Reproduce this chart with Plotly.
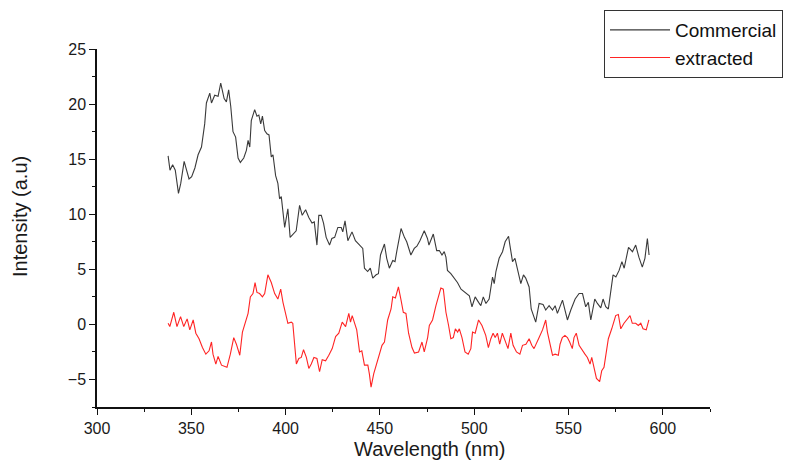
import plotly.graph_objects as go

# Commercial series (wavelength nm, intensity a.u.)
commercial_x = [337.7, 338.7, 340.1, 341.5, 343.2, 344.4, 346.2, 347.6, 348.8, 350.2, 351.9, 353.6, 355.4, 357.1, 358.0,
                359.8, 360.7, 362.4, 364.2, 365.6, 367.4, 368.6, 369.8, 370.9, 372.1, 373.5, 374.8, 376.0, 377.8, 379.2,
                380.1, 381.0, 381.8, 383.6, 384.8, 385.8, 386.8, 387.7, 388.9, 390.1, 391.2, 392.4, 393.3, 394.7, 395.9,
                396.8, 397.7, 399.5, 401.2, 402.4, 403.8, 405.6, 407.4, 408.8, 410.6, 412.3, 414.0, 415.2, 416.6, 417.6,
                418.9, 420.1, 421.5, 423.3, 424.5, 426.0, 427.7, 429.5, 430.3, 431.5, 433.0, 435.2, 437.0, 438.7, 440.9,
                441.8, 443.5, 444.9, 446.2, 448.0, 449.2, 450.3, 452.4, 453.6, 455.0, 456.8, 458.0, 459.0, 461.2, 463.0,
                464.2, 466.4, 468.2, 469.6, 471.2, 473.5, 475.2, 476.0, 478.3, 480.1, 481.5, 482.9, 484.1, 485.0, 485.8,
                487.6, 489.4, 491.1, 493.0, 495.0, 497.4, 498.8, 500.5, 502.3, 503.5, 504.8, 506.2, 507.9, 509.7, 510.6,
                511.5, 513.2, 515.0, 516.4, 518.2, 518.9, 520.3, 521.6, 522.9, 524.7, 526.1, 527.3, 529.1, 530.2, 532.6,
                534.4, 536.5, 537.9, 539.7, 541.5, 542.9, 544.1, 546.8, 548.2, 549.4, 551.2, 553.5, 555.6, 557.4, 559.1,
                560.5, 561.8, 563.9, 565.3, 567.1, 568.3, 569.7, 571.1, 572.4, 573.6, 575.1, 576.8, 578.3, 579.5, 581.8,
                583.9, 585.6, 587.3, 589.1, 590.5, 591.8, 592.7]
commercial_y = [15.3, 14.0, 14.5, 14.0, 11.9, 12.8, 14.8, 14.0, 13.2, 13.4, 14.2, 15.4, 16.1, 18.2, 20.1,
                21.0, 20.1, 20.8, 20.7, 21.9, 20.5, 20.2, 21.3, 19.8, 17.5, 17.0, 15.1, 14.7, 15.1, 15.8,
                16.7, 16.1, 18.5, 19.5, 18.9, 19.0, 18.2, 18.9, 17.6, 17.3, 17.2, 15.2, 15.4, 13.5, 12.8,
                11.4, 11.6, 8.8, 10.5, 7.9, 8.2, 8.5, 10.8, 9.9, 10.4, 9.7, 9.2, 9.3, 7.2, 9.9,
                9.9, 9.2, 7.9, 7.2, 7.8, 7.9, 8.8, 8.8, 8.4, 9.4, 7.6, 8.4, 7.6, 7.3, 6.9,
                5.1, 4.8, 5.1, 4.2, 4.5, 4.6, 6.3, 7.3, 6.0, 5.1, 5.8, 5.7, 6.7, 8.7, 7.9,
                7.5, 6.3, 6.9, 7.1, 7.6, 8.5, 7.8, 7.2, 8.2, 6.7, 6.7, 6.3, 6.6, 6.1, 4.9,
                4.6, 4.2, 3.8, 3.2, 2.9, 2.6, 1.6, 2.5, 2.0, 1.7, 2.5, 1.9, 2.3, 4.3, 3.7,
                4.8, 6.0, 6.6, 7.5, 8.0, 7.2, 5.7, 6.0, 4.9, 3.7, 4.5, 4.2, 3.4, 1.4, 0.2,
                1.9, 1.8, 1.3, 1.7, 1.3, 1.7, 1.0, 2.2, 1.1, 0.4, 1.3, 2.3, 2.8, 2.8, 1.6,
                2.0, 0.4, 2.3, 1.9, 1.5, 2.3, 1.6, 1.4, 2.8, 4.5, 4.3, 4.9, 5.7, 5.1, 7.0,
                6.6, 7.2, 6.1, 5.2, 6.0, 7.8, 6.3]

# Extracted series
extracted_x = [337.7, 338.6, 340.7, 342.4, 344.3, 346.0, 347.8, 349.2, 351.0, 352.4, 354.1, 355.9, 357.7, 359.4, 360.7,
               361.5, 363.0, 364.2, 366.0, 367.7, 368.9, 370.7, 372.5, 373.9, 375.7, 377.1, 378.8, 380.1, 381.3, 382.7,
               383.8, 384.8, 386.2, 387.7, 388.9, 390.6, 392.4, 394.2, 395.9, 397.4, 398.6, 400.0, 401.2, 403.0, 403.8,
               405.7, 407.0, 408.3, 409.5, 411.0, 412.3, 413.6, 415.0, 416.6, 418.0, 419.4, 421.2, 422.9, 424.7, 426.5,
               428.2, 430.0, 431.8, 433.5, 434.4, 435.3, 436.5, 437.7, 439.2, 440.4, 441.8, 443.6, 444.4, 445.3, 446.7,
               448.0, 449.4, 451.1, 452.4, 454.1, 455.9, 456.8, 458.2, 459.8, 461.2, 462.4, 463.8, 465.2, 467.0, 468.3,
               470.5, 472.3, 473.5, 475.3, 476.2, 477.9, 479.7, 481.1, 482.3, 483.6, 485.0, 486.4, 487.6, 488.9, 490.0,
               491.2, 492.1, 493.5, 495.1, 496.8, 498.2, 499.1, 500.5, 502.3, 504.1, 506.1, 507.5, 508.8, 510.0, 511.1,
               512.3, 513.5, 514.9, 516.4, 517.9, 519.4, 520.6, 522.4, 524.2, 525.6, 527.4, 529.1, 530.5, 531.7, 532.9,
               534.4, 536.2, 537.9, 538.8, 540.0, 541.5, 542.9, 544.6, 545.5, 546.7, 548.1, 549.4, 550.6, 552.0, 552.9,
               554.1, 555.6, 557.3, 558.7, 560.0, 561.4, 562.3, 563.5, 564.8, 566.5, 567.6, 568.8, 570.0, 571.1, 572.9,
               575.0, 576.4, 577.7, 579.4, 581.1, 582.6, 583.8, 585.6, 587.0, 588.3, 589.5, 591.2, 592.6]
extracted_y = [0.1, -0.2, 1.1, -0.2, 0.7, -0.2, 0.5, -0.5, 0.4, -0.8, -1.3, -2.1, -2.7, -2.4, -1.6,
               -2.7, -3.6, -2.9, -3.7, -3.8, -3.9, -2.7, -1.2, -1.8, -2.8, -0.7, 0.4, 1.0, 2.5, 2.8,
               3.8, 2.9, 2.8, 2.5, 2.8, 4.5, 3.8, 2.8, 2.3, 3.2, 2.0, 0.8, 0.1, 0.2, 0.1,
               -3.6, -3.1, -3.0, -2.3, -3.0, -4.0, -3.6, -3.0, -3.1, -4.3, -3.2, -3.3, -2.8, -2.2, -1.1,
               -0.8, 0.2, -0.2, 1.0, 0.2, 0.8, 0.2, -0.5, -2.5, -2.4, -3.7, -3.7, -4.5, -5.7, -4.5,
               -3.7, -2.7, -1.9, -1.6, 0.4, 1.4, 2.5, 2.4, 3.4, 2.2, 1.1, 1.0, -0.8, -2.1, -2.6,
               -2.5, -1.6, -2.5, -1.2, -0.1, 0.4, 1.7, 2.5, 3.3, 3.2, 1.1, -0.1, -1.3, -1.2, -0.4,
               -0.7, -0.4, -1.2, -2.5, -2.7, -2.2, -0.7, -0.8, 0.4, -0.1, -1.0, -2.1, -1.3, -0.8, -1.2,
               -0.8, -1.8, -0.8, -1.5, -2.2, -0.8, -1.9, -2.5, -2.7, -1.9, -1.8, -1.3, -1.9, -2.2, -1.8,
               -1.2, -0.5, 0.4, -0.7, -1.6, -2.8, -2.7, -2.8, -1.8, -1.2, -1.0, -1.2, -1.6, -2.2, -1.2,
               -0.8, -1.9, -2.4, -2.7, -3.0, -3.6, -3.0, -3.9, -4.9, -5.2, -4.2, -3.9, -2.4, -1.3, -0.4,
               0.8, 0.9, -0.4, 0.1, 0.5, 0.8, 0.1, 0.1, -0.1, 0.1, -0.4, -0.5, 0.4]

x_tick_vals = [300, 350, 400, 450, 500, 550, 600]
y_tick_vals = [-5, 0, 5, 10, 15, 20, 25]
x_title = "Wavelength (nm)"
y_title = "Intensity (a.u)"

fig = go.Figure()
fig.add_trace(go.Scatter(x=commercial_x, y=commercial_y, mode="lines", name="Commercial",
                         line=dict(color="#3a3a3a", width=1.1)))
fig.add_trace(go.Scatter(x=extracted_x, y=extracted_y, mode="lines", name="extracted",
                         line=dict(color="#ff2424", width=1.1)))

# The page body adds an 8px offset, so the figure is 8px smaller and margins compensate.
font_family = "Liberation Sans, Arial, sans-serif"
fig.update_layout(
    width=800, height=452,
    margin=dict(l=89, r=98, t=41, b=53, autoexpand=False),
    paper_bgcolor="white", plot_bgcolor="white",
    font=dict(family=font_family, color="#1a1a1a"),
    showlegend=True,
    legend=dict(x=(604 - 97) / 613, y=(407 - 10) / 358, xanchor="left", yanchor="top",
                bordercolor="#333333", borderwidth=1, bgcolor="white",
                font=dict(size=19, family=font_family, color="#111111"),
                tracegroupgap=0, itemwidth=60),
    xaxis=dict(range=[300, 625], tickvals=x_tick_vals, ticks="outside", ticklen=6, tickwidth=1.3,
               tickcolor="#111", showline=True, linecolor="#111", linewidth=1.5, showgrid=False,
               zeroline=False, automargin=False, tickfont=dict(size=16, color="#1a1a1a"),
               minor=dict(ticks="outside", dtick=25, ticklen=3, tickcolor="#111", tickwidth=1.2)),
    yaxis=dict(range=[-7.5, 25], tickvals=y_tick_vals, ticks="outside", ticklen=6, tickwidth=1.3,
               tickcolor="#111", showline=True, linecolor="#111", linewidth=1.5, showgrid=False,
               zeroline=False, automargin=False, tickfont=dict(size=16, color="#1a1a1a"),
               minor=dict(ticks="outside", dtick=2.5, tick0=0, ticklen=3, tickcolor="#111", tickwidth=1.2)),
    annotations=[
        dict(text=x_title, xref="paper", yref="paper", x=(430 - 97) / 613, y=0, yshift=-42,
             xanchor="center", yanchor="middle", showarrow=False,
             font=dict(size=20, family=font_family, color="#1a1a1a")),
        dict(text=y_title, xref="paper", yref="paper", x=0, xshift=-77, y=(407 - 217) / 358,
             xanchor="center", yanchor="middle", textangle=-90, showarrow=False,
             font=dict(size=20, family="Liberation Sans Narrow, Liberation Sans, Arial Narrow, sans-serif",
                       color="#1a1a1a")),
    ],
)

fig.write_html("out.html")
